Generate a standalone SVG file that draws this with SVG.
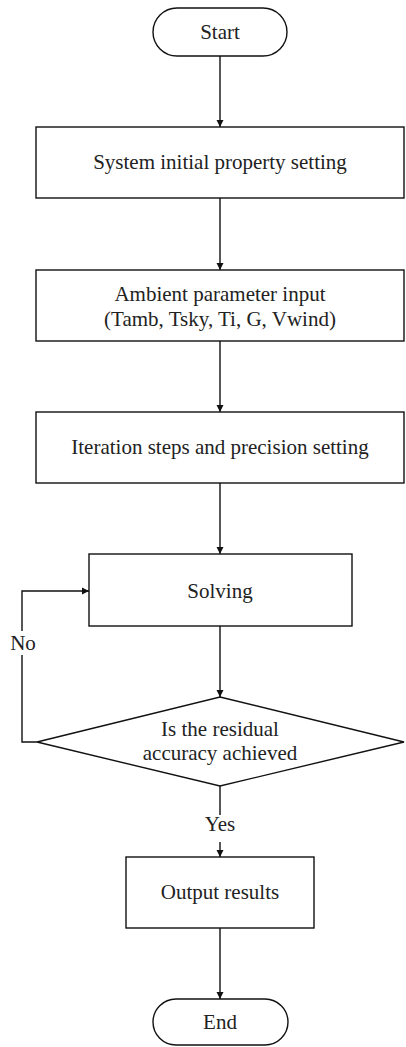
<svg xmlns="http://www.w3.org/2000/svg" width="406" height="1047" viewBox="0 0 406 1047">
<defs>
<marker id="arr" markerWidth="8" markerHeight="8" refX="7" refY="4" orient="auto" markerUnits="userSpaceOnUse">
<path d="M0,0.5 L7,4 L0,7.5 Z" fill="#111"/>
</marker>
<style>
.shape{fill:#fff;stroke:#111;stroke-width:1.4}
.ln{fill:none;stroke:#111;stroke-width:1.4}
text{font-family:"Liberation Serif","Times New Roman",serif;font-size:21px;fill:#222;text-anchor:middle}
</style>
</defs>
<rect width="406" height="1047" fill="#fff"/>
<g id="connectors">
<line class="ln" x1="220" y1="56" x2="220" y2="127" marker-end="url(#arr)"/>
<line class="ln" x1="220" y1="198" x2="220" y2="270" marker-end="url(#arr)"/>
<line class="ln" x1="220" y1="341" x2="220" y2="412" marker-end="url(#arr)"/>
<line class="ln" x1="220" y1="483" x2="220" y2="554" marker-end="url(#arr)"/>
<line class="ln" x1="220" y1="626" x2="220" y2="697" marker-end="url(#arr)"/>
<line class="ln" x1="220" y1="786" x2="220" y2="815"/>
<line class="ln" x1="220" y1="842" x2="220" y2="857" marker-end="url(#arr)"/>
<line class="ln" x1="220" y1="928" x2="220" y2="999" marker-end="url(#arr)"/>
<polyline class="ln" points="37,742 22,742 22,655"/>
<polyline class="ln" points="22,631 22,591 89,591" marker-end="url(#arr)"/>
<text x="23" y="650">No</text>
<text x="220" y="831">Yes</text>
</g>
<g id="start">
<rect class="shape" x="153" y="8" width="134" height="48" rx="24"/>
<text x="220" y="39">Start</text>
</g>
<g id="init">
<rect class="shape" x="36" y="127" width="368" height="71"/>
<text x="220" y="169">System initial property setting</text>
</g>
<g id="ambient">
<rect class="shape" x="36" y="270" width="368" height="71"/>
<text x="220" y="301">Ambient parameter input</text>
<text x="220" y="326">(Tamb, Tsky, Ti, G, Vwind)</text>
</g>
<g id="iteration">
<rect class="shape" x="36" y="412" width="368" height="71"/>
<text x="220" y="454">Iteration steps and precision setting</text>
</g>
<g id="solving">
<rect class="shape" x="89" y="554" width="263" height="72"/>
<text x="220" y="598">Solving</text>
</g>
<g id="decision">
<polygon class="shape" points="220,697 404,742 220,786 37,742"/>
<text x="220" y="736">Is the residual</text>
<text x="220" y="760">accuracy achieved</text>
</g>
<g id="output">
<rect class="shape" x="126" y="857" width="188" height="71"/>
<text x="220" y="899">Output results</text>
</g>
<g id="end">
<rect class="shape" x="153" y="999" width="135" height="46" rx="23"/>
<text x="220" y="1029">End</text>
</g>
</svg>
